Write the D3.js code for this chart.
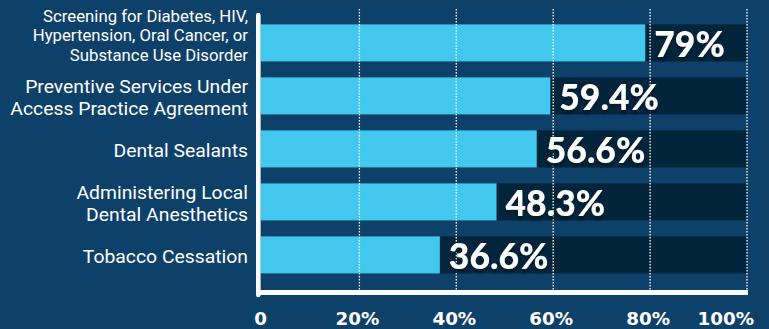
<!DOCTYPE html>
<html>
<head>
<meta charset="utf-8">
<script src="https://cdn.jsdelivr.net/npm/d3@7/dist/d3.min.js"></script>
<style>
  html, body { margin: 0; padding: 0; background: #0e416a; }
  svg { display: block; }
</style>
</head>
<body>
<svg id="chart" width="769" height="329"></svg>
<script>
// Share of respondents by service (percent)
const categories = [
  ["Screening for Diabetes, HIV,", "Hypertension, Oral Cancer, or", "Substance Use Disorder"],
  ["Preventive Services Under", "Access Practice Agreement"],
  ["Dental Sealants"],
  ["Administering Local", "Dental Anesthetics"],
  ["Tobacco Cessation"]
];
const values = [79, 59.4, 56.6, 48.3, 36.6];
const valueLabels = ["79%", "59.4%", "56.6%", "48.3%", "36.6%"];
const tickValues = [0, 20, 40, 60, 80, 100];
const tickLabels = ["0", "20%", "40%", "60%", "80%", "100%"];

const W = 769, H = 329;
const colors = { bg: "#0e416a", bar: "#42c7ef", track: "#03253b", text: "#ffffff", shadow: "#021c2f" };

const svg = d3.select("#chart");
svg.append("rect").attr("width", W).attr("height", H).attr("fill", colors.bg);

const defs = svg.append("defs");
defs.append("filter").attr("id", "valShadow")
  .attr("x", "-10%").attr("y", "-10%").attr("width", "120%").attr("height", "140%")
  .append("feDropShadow")
  .attr("dx", 0).attr("dy", 4).attr("stdDeviation", 1)
  .attr("flood-color", colors.shadow).attr("flood-opacity", 1);

const x = d3.scaleLinear().domain([0, 100]).range([262.5, 747]);
const y = d3.scaleBand().domain(d3.range(values.length))
  .range([16.4, 281.4]).paddingInner(0.3).paddingOuter(0.15);
const mid = i => y(i) + y.bandwidth() / 2;

const barLeft = x(0) - 2;

// dark tracks spanning the full 0–100% range
svg.append("g").selectAll("rect").data(values).join("rect")
  .attr("x", barLeft).attr("y", (d, i) => y(i))
  .attr("width", x(100) - barLeft).attr("height", y.bandwidth())
  .attr("fill", colors.track);

// value bars
svg.append("g").selectAll("rect").data(values).join("rect")
  .attr("x", barLeft).attr("y", (d, i) => y(i))
  .attr("width", d => x(d) - barLeft).attr("height", y.bandwidth())
  .attr("fill", colors.bar);

// dotted gridlines
svg.append("g").selectAll("line").data(tickValues.filter(v => v > 0)).join("line")
  .attr("x1", d => x(d)).attr("x2", d => x(d))
  .attr("y1", 9).attr("y2", 290)
  .attr("stroke", "#ffffff").attr("stroke-width", 1.3)
  .attr("stroke-dasharray", "1.6,1.4");

// axis frame
svg.append("line")
  .attr("x1", x(0) - 4.2).attr("x2", x(0) - 4.2)
  .attr("y1", 15).attr("y2", 295)
  .attr("stroke", "#ffffff").attr("stroke-width", 4.6).attr("stroke-linecap", "round");
svg.append("rect")
  .attr("x", x(0) - 6.5).attr("y", 290)
  .attr("width", x(100) + 1 - (x(0) - 6.5)).attr("height", 5)
  .attr("fill", "#ffffff");

// value labels
svg.append("g").selectAll("text").data(values).join("text")
  .attr("x", d => x(d) + 9)
  .attr("y", (d, i) => mid(i) + 13.8)
  .attr("font-family", "Lato, Inter, sans-serif")
  .attr("font-weight", 900)
  .attr("font-size", 35.5)
  .attr("fill", colors.text)
  .attr("filter", "url(#valShadow)")
  .text((d, i) => valueLabels[i]);

// category labels, right-aligned against the axis
const labelRight = 248;
const labelG = svg.append("g")
  .attr("transform", `translate(${labelRight},0) scale(1.035,1)`)
  .attr("font-family", "Roboto, 'Liberation Sans', sans-serif")
  .attr("fill", colors.text)
  .attr("text-anchor", "end");
categories.forEach((lines, i) => {
  const n = lines.length;
  const long = n > 2;
  const fs = long ? 16.2 : 18.7;
  const pitch = long ? 19.5 : 22;
  const shift = long ? -7.5 : 1;
  const t = labelG.append("text").attr("font-size", fs);
  lines.forEach((line, j) => {
    t.append("tspan")
      .attr("x", 0)
      .attr("y", mid(i) + fs * 0.36 + shift + (j - (n - 1) / 2) * pitch)
      .text(line);
  });
});

// x tick labels
svg.append("g").selectAll("text").data(tickValues).join("text")
  .attr("x", (d, i) => i === tickValues.length - 1 ? x(d) + 7 : x(d) - 2)
  .attr("y", 325)
  .attr("text-anchor", (d, i) => i === tickValues.length - 1 ? "end" : "middle")
  .attr("font-family", "'DejaVu Sans', sans-serif")
  .attr("font-weight", "bold")
  .attr("font-size", 18.3)
  .attr("fill", colors.text)
  .text((d, i) => tickLabels[i]);
</script>
</body>
</html>
